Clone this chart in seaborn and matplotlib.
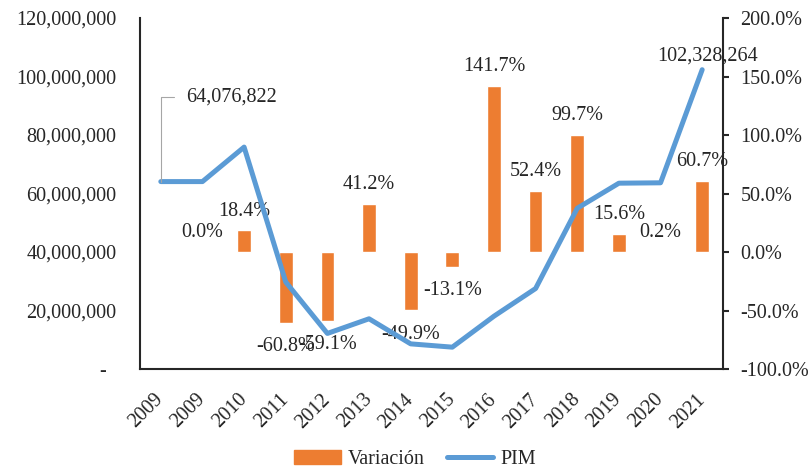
import numpy as np
import pandas as pd
import seaborn as sns
import matplotlib.pyplot as plt
from matplotlib.patches import Patch
from matplotlib.lines import Line2D
from matplotlib.ticker import FuncFormatter, MultipleLocator

# data
years = ["2009", "2009", "2010", "2011", "2012", "2013", "2014",
         "2015", "2016", "2017", "2018", "2019", "2020", "2021"]
pim = [64076822, 64076822, 75867000, 29740000, 12160000, 17170000, 8600000,
       7470000, 18060000, 27520000, 54960000, 63530000, 63660000, 102328264]
variacion = [np.nan, 0.0, 18.4, -60.8, -59.1, 41.2, -49.9,
             -13.1, 141.7, 52.4, 99.7, 15.6, 0.2, 60.7]

sns.set_style("white")
plt.rcParams["font.family"] = ["Liberation Serif", "DejaVu Serif"]
plt.rcParams["font.size"] = 14.5
plt.rcParams["text.color"] = "#262626"

orange = "#ED7D31"
blue = "#5B9BD5"
axis_col = "#262626"

df = pd.DataFrame({"pos": range(len(years)), "year": years,
                   "pim": pim, "var": variacion})

fig = plt.figure(figsize=(8.12, 4.74), dpi=100)
ax = fig.add_axes([0.1724, 0.2215, 0.718, 0.7405])
ax2 = ax.twinx()

# bars (variation, right axis) and line (PIM, left axis)
sns.barplot(data=df, x="pos", y="var", ax=ax2, order=list(range(len(years))),
            color=orange, width=0.33, saturation=1, errorbar=None)
sns.lineplot(data=df, x="pos", y="pim", ax=ax, color=blue, linewidth=3.6)

# line drawn above the bars
ax.set_zorder(ax2.get_zorder() + 1)
ax.patch.set_visible(False)

ax.set_xlim(-0.5, len(years) - 0.5)
ax.set_ylim(0, 120e6)
ax2.set_ylim(-100, 200)
ax.yaxis.set_major_locator(MultipleLocator(20e6))
ax2.yaxis.set_major_locator(MultipleLocator(50))
ax.yaxis.set_major_formatter(FuncFormatter(lambda v, p: f"{v:,.0f}" if v else "-  "))
ax2.yaxis.set_major_formatter(FuncFormatter(lambda v, p: f"{v:.1f}%"))

ax.set_xticks(range(len(years)))
ax.set_xticklabels(years, rotation=45, ha="right", rotation_mode="anchor", va="center")
ax.tick_params(axis="x", length=0, pad=20, labelcolor=axis_col)
ax.tick_params(axis="y", length=0, pad=17, labelcolor=axis_col)
ax2.tick_params(axis="y", direction="out", length=4.5, width=1.5, pad=8,
                color=axis_col, labelcolor=axis_col)

for a in (ax, ax2):
    a.set_xlabel("")
    a.set_ylabel("")
    a.spines["top"].set_visible(False)
ax.spines["right"].set_visible(False)
ax2.spines["left"].set_visible(False)
ax2.spines["bottom"].set_visible(False)
for s in ("left", "bottom"):
    ax.spines[s].set_linewidth(1.5)
    ax.spines[s].set_color(axis_col)
ax2.spines["right"].set_linewidth(1.5)
ax2.spines["right"].set_color(axis_col)

# data labels on the bars
for i, v in enumerate(variacion):
    if np.isnan(v):
        continue
    off = 14 if v >= 0 else -17
    ax2.annotate(f"{v:.1f}%", (i, v), xytext=(0, off), textcoords="offset points",
                 ha="center", va="center")

# data labels on the line (first and last point)
ax.annotate(f"{pim[0]:,.0f}", (0, pim[0]), xytext=(18, 61), textcoords="offset points",
            ha="left", va="center",
            arrowprops=dict(arrowstyle="-", color="#A6A6A6", lw=0.8, relpos=(0, 0.5),
                            shrinkA=6.5, shrinkB=0,
                            connectionstyle="angle,angleA=0,angleB=90,rad=0"))
ax.annotate(f"{pim[-1]:,.0f}", (len(pim) - 1, pim[-1]), xytext=(4, 10),
            textcoords="offset points", ha="center", va="center")

handles = [Patch(color=orange, label="Variación"),
           Line2D([], [], color=blue, lw=3.6, label="PIM")]
fig.legend(handles=handles, loc="center", bbox_to_anchor=(0.511, 0.03), ncol=2,
           frameon=False, handlelength=2.3, handletextpad=0.35, columnspacing=1.1)

fig.savefig("out.png", dpi=100)
